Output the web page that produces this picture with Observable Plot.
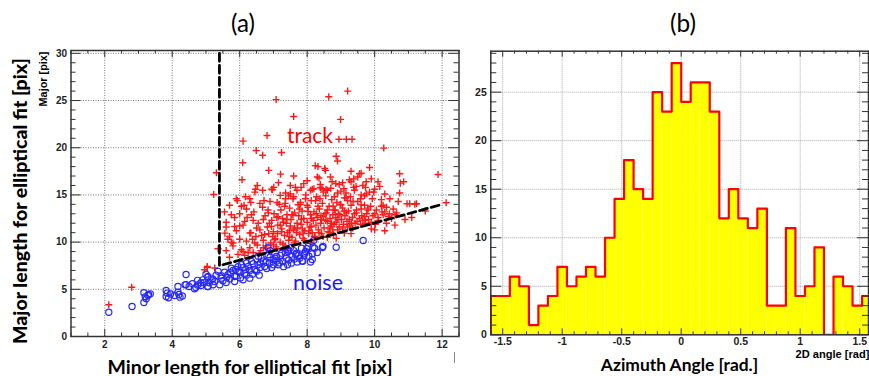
<!DOCTYPE html>
<html><head><meta charset="utf-8">
<script src="https://cdn.jsdelivr.net/npm/d3@7"></script>
<script src="https://cdn.jsdelivr.net/npm/@observablehq/plot@0.6"></script>
<style>
body{margin:0;background:#fff;overflow:hidden}
#wrap{position:relative;width:869px;height:376px;overflow:hidden;background:#fff}
#wrap svg{position:absolute}
.lbl{position:absolute;white-space:nowrap;line-height:1}
</style></head><body><div id="wrap"></div>
<script>
// ---------- Panel (a) data: track (red +) and noise (blue o) ----------
const trackPoints = [
[9.2,26.0],[8.64,25.4],[7.08,25.1],[8.99,23.0],[7.6,23.3],[6.81,21.3],[8.94,20.9],[9.16,20.9],[9.33,20.9],[6.1,20.7],
[10.27,19.96],[6.49,19.7],[7.24,19.5],[6.68,19.2],[8.86,19.1],[8.9,18.6],[6.09,18.4],[8.24,18.1],[8.32,18.0],[9.85,17.9],
[6.86,17.6],[8.52,17.8],[5.31,17.35],[7.6,17.0],[10.74,17.24],[11.88,17.17],[9.55,17.24],[9.38,16.7],[8.69,16.9],[8.74,16.4],
[8.39,16.1],[8.44,15.65],[10.76,16.25],[10.86,16.4],[6.07,16.6],[6.52,16.0],[7.01,15.8],[7.82,15.8],[8.2,15.65],[9.09,15.65],
[9.73,15.8],[9.97,15.3],[10.74,15.2],[5.23,15.05],[6.17,14.8],[6.68,15.5],[7.2,14.95],[7.6,14.8],[9.28,14.8],[10.96,14.07],
[11.19,14.0],[12.12,14.17],[7.21,17.2],[6.97,15.55],[7.5,16.0],[7.7,15.5],[8.0,16.5],[8.3,16.9],[8.54,17.6],[8.6,15.5],
[5.93,14.4],[6.13,13.9],[6.33,14.2],[6.72,14.4],[7.11,14.2],[7.36,14.6],[7.8,14.2],[8.0,13.9],[8.25,14.4],[8.1,15.5],
[8.39,15.8],[7.5,15.1],[6.47,15.6],[9.3,17.5],[9.6,17.3],[9.5,16.9],[9.3,16.4],[8.85,16.2],[9.05,16.3],[9.75,16.4],
[9.9,16.7],[10.1,16.4],[8.7,15.7],[9.0,15.4],[9.4,15.5],[9.6,15.0],[9.85,15.3],[9.93,14.6],[10.25,13.9],[9.7,13.9],
[9.2,14.4],[8.81,14.8],[9.11,14.7],
[2.12,3.36],[2.8,5.22],[4.96,7.07],[5.04,7.3],[5.26,7.25],[5.36,9.3],
[5.04,7.42],[5.6,12.1],[5.56,10.95],[5.75,12.9],[5.7,10.6],[5.8,9.9],[5.85,11.66],[6.05,13.8],[6.15,12.2],[6.35,12.9],
[6.3,10.95],[6.5,11.5],[6.45,9.9],[6.7,12.4],[6.74,10.8],[6.84,13.4],[6.94,11.66],[7.04,10.25],[7.14,12.7],[7.24,11.1],
[7.33,13.8],[7.38,12.0],[7.48,10.6],[7.58,12.9],[7.63,11.5],[7.73,13.96],[7.83,12.4],[7.88,10.95],[8.03,13.25],[8.12,11.66],
[8.22,10.6],[8.32,13.8],[8.42,12.4],[8.57,13.1],[8.67,11.5],[8.77,13.8],
[8.8,13.4],[8.91,12.4],[9.0,13.96],[9.16,13.1],[9.31,12.0],[9.46,13.4],[9.6,13.96],[9.7,12.7],[9.72,12.0],[9.8,13.4],
[10.0,11.3],[10.2,13.8],[10.25,12.9],[10.35,12.0],[10.44,13.0],[10.02,11.9],[11.04,14.06],[11.24,14.06],[8.76,11.3],[9.1,10.95],[8.86,10.4],
[5.6,9.1],[5.7,8.4],[5.8,9.6],[5.9,11.2],[5.95,8.7],[6.0,10.3],[6.05,9.2],[6.1,11.8],[6.15,8.6],[6.2,10.1],
[6.22,12.6],[6.3,9.4],[6.33,11.0],[6.4,8.9],[6.42,13.2],[6.48,10.6],[6.52,9.7],[6.55,12.0],[6.6,11.3],[6.62,9.1],
[6.68,13.7],[6.7,10.2],[6.75,12.8],[6.78,9.6],[6.82,11.6],[6.86,10.9],[6.9,14.3],[6.92,9.9],[6.95,12.3],[7.0,11.1],
[7.02,13.0],[7.05,10.4],[7.08,9.5],[7.1,12.6],[7.13,11.8],[7.17,14.0],[7.2,10.0],[7.22,13.4],[7.25,11.4],[7.28,9.8],
[7.3,12.1],[7.33,10.7],[7.36,15.2],[7.4,12.9],[7.42,11.0],[7.45,10.2],[7.48,13.6],[7.5,11.7],[7.52,12.4],[7.55,10.5],
[7.58,14.6],[7.6,11.3],[7.63,13.1],[7.66,10.1],[7.7,12.0],[7.72,11.5],[7.75,12.8],[7.78,10.8],[7.8,14.0],[7.82,11.9],
[7.85,13.3],[7.88,10.4],[7.9,12.5],[7.93,11.2],[7.96,15.0],[8.0,12.1],[8.02,13.7],[8.05,10.9],[8.08,11.6],[8.1,12.9],
[8.12,14.4],[8.15,11.0],[8.18,12.3],[8.2,13.2],[8.23,10.6],[8.26,11.8],[8.28,14.8],[8.3,12.6],[8.33,11.3],[8.36,13.5],
[8.4,12.0],[8.42,10.9],[8.45,14.1],[8.48,12.7],[8.5,11.5],[8.53,13.0],[8.56,15.6],[8.6,12.2],[8.62,11.1],[8.65,13.8],
[8.68,12.5],[8.7,11.7],[8.73,14.5],[8.76,12.9],[8.8,11.9],[8.83,13.4],[8.86,12.1],[8.9,15.2],[8.92,13.0],[8.95,11.6],
[8.98,14.0],[9.02,12.4],[9.05,13.6],[9.08,11.9],[9.12,12.8],[9.15,14.7],[9.18,12.2],[9.22,13.3],[9.26,11.8],[9.3,13.9],
[9.34,12.6],[9.38,15.8],[9.42,12.0],[9.46,13.1],[9.5,14.3],[9.55,12.5],[9.6,13.5],[9.65,12.3],[9.7,14.9],[9.76,13.0],
[9.82,12.4],[9.88,13.8],[9.95,12.8],[10.05,13.4],[10.1,12.6],[10.2,14.5],[10.3,13.2],[10.4,12.7],[10.55,13.5],[10.6,12.9],
[10.7,14.3],[6.3,14.6],[6.45,15.3],[6.6,14.1],[6.95,15.6],[7.15,16.3],[7.35,14.1],[7.65,15.8],[7.9,16.2],[8.15,15.6],
[8.35,16.8],[8.55,14.9],[8.95,16.1],[9.25,16.6],[9.45,15.9],[9.65,16.0],[9.75,15.1],[10.0,15.6],[10.15,15.9],[5.55,13.2],
[5.6,11.6],[5.7,13.9],[5.75,10.0],[5.85,12.6],[5.9,14.6],[6.0,13.0],[6.1,9.0],[7.4,9.3],[8.1,9.9],[8.6,10.5],
[9.3,10.9],[9.9,11.4],[10.3,11.2],[10.6,11.8],[10.9,12.4],[11.1,12.6],[11.5,13.3],
[6.25,8.9],[6.38,10.3],[6.58,8.8],[6.65,10.7],[6.8,9.3],[6.88,12.0],[7.0,9.7],[7.12,10.9],[7.27,12.5],[7.35,9.6],
[7.47,11.2],[7.55,12.9],[7.62,9.9],[7.68,11.0],[7.77,13.5],[7.86,11.4],[7.92,10.2],[8.05,11.2],[8.13,12.5],[8.2,10.3],
[8.27,13.0],[8.35,11.0],[8.41,12.8],[8.47,10.6],[8.55,12.3],[8.6,13.4],[8.66,11.0],[8.72,12.0],[8.78,10.8],[8.85,12.6],
[8.9,11.3],[8.97,12.9],[9.05,11.4],[9.1,13.3],[9.2,11.6],[9.25,12.4],[9.35,11.5],[9.4,13.0],[9.48,12.2],[9.58,11.9],
[9.62,12.8],[9.72,12.3],[9.8,13.6],[9.9,12.1],[10.0,13.0],[10.12,12.3],[10.22,13.2],[10.35,13.7],[10.5,12.5],[10.65,13.1],
[7.2,11.8],[7.4,12.4],[7.1,9.3],[6.7,9.4],[6.98,10.6],[8.38,14.6],[8.88,14.2],[9.36,14.3],[9.58,14.6],[7.95,14.6],
[7.45,14.9],[6.85,13.1],[6.4,12.3],[6.2,13.5],[6.0,11.7],[5.65,10.3],[10.45,14.6],[10.3,15.1],[9.15,15.2],[8.48,15.3]
];
const noisePoints = [
[2.12,2.57],[2.81,3.18],[3.16,3.6],[3.16,4.63],[3.2,4.2],[3.23,3.99],[3.28,4.34],[3.35,4.52],[3.82,4.87],[3.82,4.24],
[3.89,4.1],[3.95,4.5],[4.07,4.34],[4.17,5.3],[4.17,4.7],[4.23,4.17],[4.3,4.3],[4.41,6.57],[4.38,5.47],[4.5,5.3],
[4.66,5.05],[4.75,5.45],[4.85,5.7],[5.05,6.28],[5.05,5.3],[5.1,5.7],[4.41,5.5],[3.85,4.6],[4.2,4.45],[3.3,4.45],
[4.91,6.0],[5.06,6.36],[5.26,5.83],[5.46,6.18],[5.36,6.9],[5.65,6.54],[5.75,7.24],[5.85,6.36],[5.95,6.9],[6.05,7.6],
[6.15,6.7],[6.25,7.42],[6.35,7.95],[6.45,7.07],[6.54,7.6],[6.64,8.3],[6.74,7.42],[6.84,8.66],[6.89,7.77],[6.99,8.13],
[7.09,8.48],[7.14,7.6],[7.24,8.83],[7.28,7.95],[7.38,8.3],[7.43,9.19],[7.53,7.77],[7.68,8.83],[7.78,8.3],[7.83,9.36],
[7.93,8.83],[8.03,9.54],[8.22,9.36],[8.47,9.54],[5.06,5.3],[5.21,5.48],[5.41,5.48],[5.6,5.72],[5.85,5.83],[6.1,6.0],
[6.3,6.18],[9.66,10.17],[8.86,9.46],[8.45,9.43],[8.17,9.46],[8.15,8.76],[8.15,8.16],[7.87,7.98],[6.84,9.4],[7.99,9.29],
[7.66,8.69],[7.44,9.0],[8.2,10.2],[5.15,6.0],[5.3,6.5],[5.5,5.9],[5.55,6.8],[5.7,6.1],[5.8,7.0],[5.9,6.4],
[6.0,6.8],[6.1,7.3],[6.2,6.5],[6.3,7.0],[6.4,7.7],[6.5,6.9],[6.6,7.3],[6.7,8.0],[6.8,7.2],[6.9,8.4],
[7.0,7.6],[7.1,8.0],[7.2,8.6],[7.3,7.4],[7.35,8.9],[7.45,8.1],[7.55,8.5],[7.6,9.1],[7.7,7.9],[7.75,8.6],
[7.85,8.0],[7.95,9.0],[8.05,8.5],[8.1,7.9],[8.3,8.9],[5.0,6.6],[5.2,6.1],[5.45,6.45],[5.62,6.3],[5.72,6.75],
[5.88,7.1],[6.02,6.2],[6.18,7.1],[6.38,6.6],[6.58,6.5],[6.62,7.8],[6.78,7.9],[6.95,7.3],[7.05,8.3],[7.18,7.8],
[7.42,7.6],[7.5,9.4],[7.62,8.2],[7.9,8.6],[6.9,9.1],[6.55,8.5],[6.2,7.8],[5.95,7.4],[4.6,5.6],[4.75,5.95],
[4.85,5.4],[4.95,5.7],[4.7,5.2]
];
// selection cut (dashed line)
const cutX = [5.4, 5.4, 12.0];
const cutY = [30.0, 7.5, 14.0];
// axis ticks panel (a)
const xTicksA = [2, 4, 6, 8, 10, 12];
const yTicksA = [0, 5, 10, 15, 20, 25, 30];

// ---------- Panel (b) data: azimuth histogram ----------
const binLow = [-1.60,-1.52,-1.44,-1.36,-1.28,-1.20,-1.12,-1.04,-0.96,-0.88,-0.80,-0.72,-0.64,-0.56,-0.48,-0.40,-0.32,-0.24,-0.16,-0.08,
                 0.00, 0.08, 0.16, 0.24, 0.32, 0.40, 0.48, 0.56, 0.64, 0.72, 0.80, 0.88, 0.96, 1.04, 1.12, 1.20, 1.28, 1.36, 1.44, 1.52];
const binWidth = 0.08;
const counts = [4,4,6,5,1,3,4,7,5,6,7,6,10,14,18,15,14,25,23,28,
                24,26,26,23,12,15,12,11,13,3,3,11,4,5,9,0,6,5,3,4];
const xTicksB = [-1.5, -1, -0.5, 0, 0.5, 1, 1.5];
const yTicksB = [0, 5, 10, 15, 20, 25];

// ---------- build ----------
const wrap = document.getElementById("wrap");
const track = trackPoints.map(([x, y]) => ({x, y}));
const noise = noisePoints.map(([x, y]) => ({x, y}));
const cut = cutX.map((x, i) => ({x, y: cutY[i]}));
const hist = binLow.map((lo, i) => ({lo, hi: lo + binWidth, n: counts[i]}));
const outline = [{x: binLow[0], y: 0}, ...hist.map(d => ({x: d.lo, y: d.n})),
  {x: hist[hist.length - 1].hi, y: counts[counts.length - 1]}, {x: hist[hist.length - 1].hi, y: 0}];

const tickFont = "'Liberation Sans', Arial, sans-serif";

// Panel (a)
const xdA = [1, 12.5], ydA = [0, 30.3];
const kxA = 388 / (xdA[1] - xdA[0]), kyA = 286 / (ydA[1] - ydA[0]);
const xMinorA = d3.range(1, 12.51, 0.5).filter(v => !xTicksA.includes(v));
const yMinorA = d3.range(0, 30.01, 1).filter(v => v % 5 !== 0);
const tickMarks = (xd, yd, kx, ky, xMaj, xMin, yMaj, yMin, lx, sx, ly, sy) => [
  Plot.ruleX(xMaj, {y1: yd[0], y2: yd[0] + lx / ky, stroke: "#333"}),
  Plot.ruleX(xMin, {y1: yd[0], y2: yd[0] + sx / ky, stroke: "#333"}),
  Plot.ruleX(xMaj, {y1: yd[1], y2: yd[1] - lx / ky, stroke: "#333"}),
  Plot.ruleX(xMin, {y1: yd[1], y2: yd[1] - sx / ky, stroke: "#333"}),
  Plot.ruleY(yMaj, {x1: xd[0], x2: xd[0] + ly / kx, stroke: "#333"}),
  Plot.ruleY(yMin, {x1: xd[0], x2: xd[0] + sy / kx, stroke: "#333"}),
  Plot.ruleY(yMaj, {x1: xd[1], x2: xd[1] - ly / kx, stroke: "#333"}),
  Plot.ruleY(yMin, {x1: xd[1], x2: xd[1] - sy / kx, stroke: "#333"})
];

const plotA = Plot.plot({
  width: 462, height: 352,
  marginLeft: 70.5, marginRight: 3.5, marginTop: 50, marginBottom: 16,
  x: {domain: xdA}, y: {domain: ydA},
  style: {fontFamily: tickFont, fontSize: "10px", fontWeight: "bold", color: "#222", background: "transparent"},
  marks: [
    Plot.gridX(xTicksA, {stroke: "#777", strokeOpacity: 1, strokeDasharray: "1,1.5"}),
    Plot.gridY(yTicksA, {stroke: "#777", strokeOpacity: 1, strokeDasharray: "1,1.5"}),
    Plot.axisX(xTicksA, {tickSize: 0, tickPadding: 4, label: null, tickFormat: d => String(d)}),
    Plot.axisY(yTicksA, {tickSize: 0, tickPadding: 4, label: null, tickFormat: d => String(d)}),
    Plot.dot(track, {x: "x", y: "y", symbol: "plus", r: 2.4, stroke: "#ff1a1a", strokeWidth: 1.4}),
    Plot.dot(noise, {x: "x", y: "y", r: 3.1, stroke: "#2828ff", strokeWidth: 1.2, fill: "none"}),
    Plot.line(cut, {x: "x", y: "y", stroke: "#000", strokeWidth: 2.8, strokeDasharray: "8,4"}),
    ...tickMarks(xdA, ydA, kxA, kyA, xTicksA, xMinorA, yTicksA, yMinorA, 7, 3.5, 10, 5),
    Plot.frame({stroke: "#333", strokeWidth: 1.5})
  ]
});
plotA.style.left = "0px"; plotA.style.top = "0px";
wrap.appendChild(plotA);

// Panel (b)
const xdB = [-1.6, 1.574], ydB = [0, 29.22];
const kxB = 377.7 / (xdB[1] - xdB[0]), kyB = 283.6 / (ydB[1] - ydB[0]);
const xMinorB = d3.range(-16, 16, 1).map(v => v / 10).filter(v => Math.abs(v * 2 - Math.round(v * 2)) > 1e-9);
const yMinorB = d3.range(1, 30, 1).filter(v => v % 5 !== 0);
const plotB = Plot.plot({
  width: 419, height: 350,
  marginLeft: 40.3, marginRight: 1, marginTop: 50.7, marginBottom: 15.7,
  x: {domain: xdB}, y: {domain: ydB},
  style: {fontFamily: tickFont, fontSize: "10.5px", fontWeight: "bold", color: "#222", background: "transparent"},
  marks: [
    Plot.gridX(xTicksB, {stroke: "#aaa", strokeOpacity: 1, strokeDasharray: "1,1"}),
    Plot.gridY(yTicksB, {stroke: "#aaa", strokeOpacity: 1, strokeDasharray: "1,1"}),
    Plot.rectY(hist, {x1: "lo", x2: "hi", y: "n", fill: "#ffff00", clip: true}),
    Plot.line(outline, {x: "x", y: "y", curve: "step-after", stroke: "#ff0000", strokeWidth: 2.2, clip: true}),
    Plot.axisX(xTicksB, {tickSize: 0, tickPadding: 3, label: null, tickFormat: d => String(d)}),
    Plot.axisY(yTicksB, {tickSize: 0, tickPadding: 4, label: null, tickFormat: d => String(d)}),
    ...tickMarks(xdB, ydB, kxB, kyB, xTicksB, xMinorB, yTicksB, yMinorB, 6, 3, 11, 6),
    Plot.frame({stroke: "#333", strokeWidth: 1.5})
  ]
});
plotB.style.left = "450px"; plotB.style.top = "0px";
wrap.appendChild(plotB);

// ---------- text ----------
const ctx = document.createElement("canvas").getContext("2d");
function addText(txt, o) {
  const weight = o.weight || 400;
  ctx.font = `${weight} 100px ${o.font}`;
  const size = o.size || 100 * o.width / ctx.measureText(txt).width;
  const d = document.createElement("div");
  d.className = "lbl";
  d.textContent = txt;
  d.style.font = `${weight} ${size}px ${o.font}`;
  d.style.color = o.color || "#000";
  d.style.left = o.cx + "px";
  d.style.top = o.cy + "px";
  d.style.transform = `translate(-50%,-50%)${o.rotate ? ` rotate(${o.rotate}deg)` : ""}`;
  wrap.appendChild(d);
}
const cal = "Lato, 'Open Sans', sans-serif";
addText("(a)", {cx: 243, cy: 22, width: 24, font: cal});
addText("(b)", {cx: 683, cy: 22, width: 26, font: cal});
addText("Minor length for elliptical fit [pix]", {cx: 250, cy: 366, width: 286, font: cal, weight: 700});
addText("Major length for elliptical fit [pix]", {cx: 19, cy: 201, width: 287, font: cal, weight: 900, rotate: -90});
addText("Azimuth Angle [rad.]", {cx: 679.5, cy: 364, width: 158, font: cal, weight: 700});
addText("Major [pix]", {cx: 43, cy: 79, width: 55, font: tickFont, weight: 700, rotate: -90});
addText("2D angle [rad]", {cx: 832.5, cy: 354, width: 74, font: tickFont, weight: 700});
addText("track", {cx: 310, cy: 134, width: 46, font: cal, color: "#ff0000"});
addText("noise", {cx: 318, cy: 282, width: 50, font: cal, color: "#1a1aff"});
const bar = document.createElement("div");
bar.style.cssText = "position:absolute;left:454px;top:352px;width:1px;height:11px;background:#888";
wrap.appendChild(bar);
</script></body></html>
